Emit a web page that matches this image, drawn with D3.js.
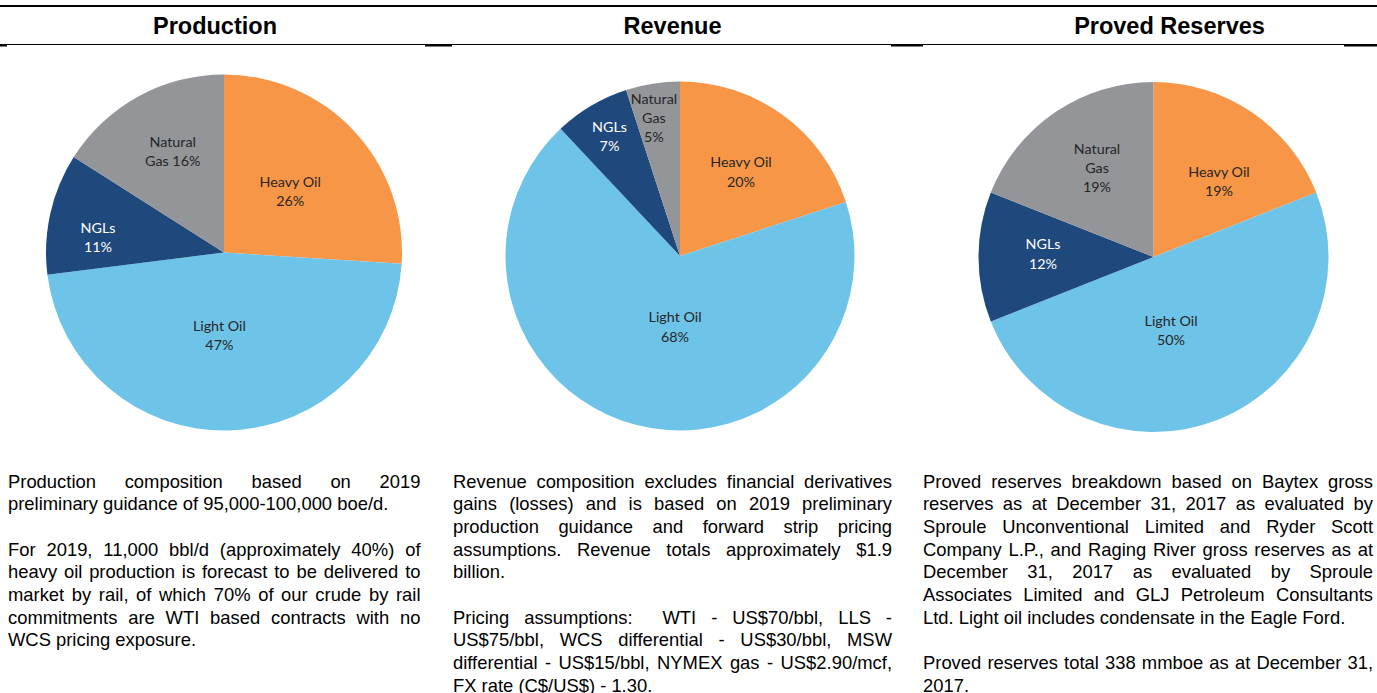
<!DOCTYPE html>
<html>
<head>
<meta charset="utf-8">
<script src="https://cdn.jsdelivr.net/npm/d3@7"></script>
<style>
  body { margin: 0; background: #fff; }
  #wrap { position: relative; width: 1377px; height: 693px; overflow: hidden; }
  svg { position: absolute; left: 0; top: 0; }
  .note {
    position: absolute;
    font-family: "Liberation Sans", Arial, sans-serif;
    font-size: 18.4px;
    line-height: 22.7px;
    color: #000;
    text-align: justify;
  }
  .note p { margin: 0 0 22.7px 0; }
</style>
</head>
<body>
<div id="wrap"><svg></svg></div>
<script>
// slice order, clockwise from 12 o'clock
let categories = ["Heavy Oil", "Light Oil", "NGLs", "Natural Gas"]

let titles = ["Production", "Revenue", "Proved Reserves"]

let productionValues = [26, 47, 11, 16]
let revenueValues = [20, 68, 7, 5]
let reservesValues = [19, 50, 12, 19]

// how each label is broken into lines (Excel wraps differently per chart)
let productionLabels = [["Heavy Oil", "26%"], ["Light Oil", "47%"], ["NGLs", "11%"], ["Natural", "Gas 16%"]]
let revenueLabels = [["Heavy Oil", "20%"], ["Light Oil", "68%"], ["NGLs", "7%"], ["Natural", "Gas", "5%"]]
let reservesLabels = [["Heavy Oil", "19%"], ["Light Oil", "50%"], ["NGLs", "12%"], ["Natural", "Gas", "19%"]]

let productionNotes = [
    "Production composition based on 2019 preliminary guidance of 95,000-100,000 boe/d.",
    "For 2019, 11,000 bbl/d (approximately 40%) of heavy oil production is forecast to be delivered to market by rail, of which 70% of our crude by rail commitments are WTI based contracts with no WCS pricing exposure."
]
let revenueNotes = [
    "Revenue composition excludes financial derivatives gains (losses) and is based on 2019 preliminary production guidance and forward strip pricing assumptions. Revenue totals approximately $1.9 billion.",
    "Pricing assumptions:&nbsp; WTI - US$70/bbl, LLS - US$75/bbl, WCS differential - US$30/bbl, MSW differential - US$15/bbl, NYMEX gas - US$2.90/mcf, FX rate (C$/US$) - 1.30."
]
let reservesNotes = [
    "Proved reserves breakdown based on Baytex gross reserves as at December 31, 2017 as evaluated by Sproule Unconventional Limited and Ryder Scott Company L.P., and Raging River gross reserves as at December 31, 2017 as evaluated by Sproule Associates Limited and GLJ Petroleum Consultants Ltd. Light oil includes condensate in the Eagle Ford.",
    "Proved reserves total 338 mmboe as at December 31, 2017."
]

// layout
let width = 1377
let height = 693
let colors = ["#F79646", "#6EC4E8", "#1F497D", "#939598"]
let labelColors = ["#262626", "#262626", "#ffffff", "#262626"]

let panels = [
    { title: titles[0], titleX: 215, cx: 224, cy: 252.5, r: 178, values: productionValues, labels: productionLabels, notes: productionNotes, noteX: 8, noteW: 412.5,
      // [radius fraction, angle nudge in degrees] per label
      labelAt: [[0.506, 0.5], [0.466, 5], [0.713, -5.8], [0.635, 1.8]] },
    { title: titles[1], titleX: 672.5, cx: 680, cy: 256, r: 174.5, values: revenueValues, labels: revenueLabels, notes: revenueNotes, noteX: 453, noteW: 439,
      labelAt: [[0.595, 0], [0.408, -10.4], [0.794, 0], [0.805, -1.7]] },
    { title: titles[2], titleX: 1169.5, cx: 1153.5, cy: 257, r: 175, values: reservesValues, labels: reservesLabels, notes: reservesNotes, noteX: 923, noteW: 450,
      labelAt: [[0.573, 6.6], [0.43, 8.1], [0.632, 1.6], [0.602, 1.8]] }
]

let svg = d3.select("svg")
    .attr("width", width)
    .attr("height", height)

// header rules
svg.append("rect").attr("x", 0).attr("y", 5).attr("width", width).attr("height", 2).attr("fill", "#000")
svg.append("rect").attr("x", 0).attr("y", 44).attr("width", width).attr("height", 1).attr("fill", "#000")
let ruleStubs = [[0, 7], [425, 452], [891, 923], [1344, 1377]]
svg.selectAll("rect.stub")
    .data(ruleStubs)
    .enter()
    .append("rect")
    .attr("class", "stub")
    .attr("x", d => d[0])
    .attr("y", 44)
    .attr("width", d => d[1] - d[0])
    .attr("height", 2.5)
    .attr("fill", "#000")

let pie = d3.pie().sort(null).value(d => d)

let drawPanel = (p) => {
    svg.append("text")
        .attr("x", p.titleX)
        .attr("y", 34)
        .attr("text-anchor", "middle")
        .style("font-family", "'Liberation Sans', Arial, sans-serif")
        .style("font-weight", "bold")
        .style("font-size", "23.5px")
        .text(p.title)

    let g = svg.append("g")
        .attr("transform", "translate(" + p.cx + "," + p.cy + ")")

    let arcs = pie(p.values)
    let arc = d3.arc().innerRadius(0).outerRadius(p.r)

    g.selectAll("path")
        .data(arcs)
        .enter()
        .append("path")
        .attr("d", arc)
        .attr("fill", (d, i) => colors[i])

    let lineH = 19.2
    arcs.forEach((d, i) => {
        let frac = p.labelAt[i][0]
        let ang = (d.startAngle + d.endAngle) / 2 + p.labelAt[i][1] * Math.PI / 180
        let lx = Math.sin(ang) * p.r * frac
        let ly = -Math.cos(ang) * p.r * frac
        let lines = p.labels[i]
        let t = g.append("text")
            .attr("text-anchor", "middle")
            .style("font-family", "Lato, 'Open Sans', sans-serif")
            .style("font-size", "14.3px")
            .attr("fill", labelColors[i])
        lines.forEach((s, k) => {
            t.append("tspan")
                .attr("x", lx)
                .attr("y", ly + (k - (lines.length - 1) / 2) * lineH)
                .attr("dy", "0.35em")
                .text(s)
        })
    })

    d3.select("#wrap").append("div")
        .attr("class", "note")
        .style("left", p.noteX + "px")
        .style("top", "470.5px")
        .style("width", p.noteW + "px")
        .selectAll("p")
        .data(p.notes)
        .enter()
        .append("p")
        .html(d => d)
}

panels.forEach(drawPanel)
</script>
</body>
</html>
